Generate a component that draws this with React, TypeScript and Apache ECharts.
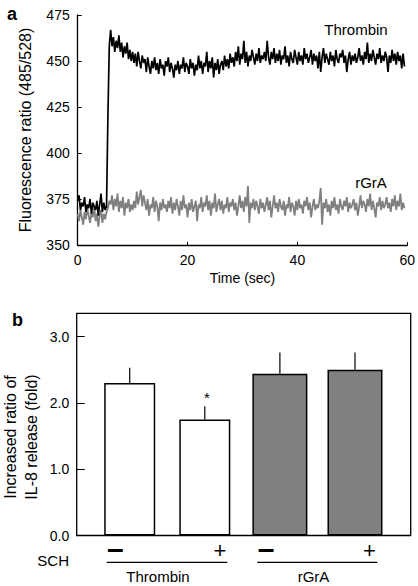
import React, { useEffect, useRef } from 'react';
import * as echarts from 'echarts';

// ---------- Panel a: fluorescence traces (sampled every 0.25 s) ----------
const SAMPLE_INTERVAL_SEC = 0.25;
const TIME_TICKS = [0, 20, 40, 60];
const RATIO_TICKS = [350, 375, 400, 425, 450, 475];

const THROMBIN_TRACE = [
  374, 377, 369, 373, 371, 376, 368, 372, 370, 375, 367, 373, 371, 369, 374, 366, 372, 378, 368, 373, 369, 371,
  420, 458, 467,
  458, 463, 455, 461, 457, 464, 455, 460,
  452, 458, 454, 460, 451, 456, 450, 455,
  449, 454, 447, 455, 450, 446, 453, 449,
  451, 444, 452, 447, 443, 450, 446, 452,
  445, 449, 443, 451, 446, 448, 442, 450,
  447, 452, 444, 449, 446, 441, 448, 445,
  450, 443, 448, 446, 452, 444, 449, 447,
  443, 451, 446, 449, 442, 448, 445, 453,
  446, 450, 443, 449, 447, 455, 444, 450,
  446, 452, 441, 449, 445, 451, 443, 448,
  450, 445, 453, 447, 451, 446, 454, 449,
  452, 447, 455, 450, 458, 448, 454, 451,
  461, 449, 455, 447, 453, 450, 456, 452,
  448, 454, 450, 457, 449, 453, 451, 455,
  450, 461, 452, 448, 455, 451, 457, 449,
  454, 450, 456, 448, 453, 451, 458, 449,
  453, 447, 455, 451, 449, 456, 452, 448,
  455, 450, 453, 448, 457, 451, 454, 449,
  452, 456, 448, 454, 450, 453, 446, 455,
  444, 452, 457, 449, 454, 451, 448, 455,
  450, 453, 447, 456, 451, 449, 454, 452,
  456, 449, 453, 444, 451, 455, 448, 453,
  450, 454, 449, 452, 457, 450, 453, 448,
  455, 451, 460, 449, 454, 450, 456, 452,
  448, 454, 451, 457, 449, 453, 450, 455,
  452, 444, 453, 449, 456, 450, 454, 448,
  455, 450, 453, 446, 454, 447,
];

const RGRA_TRACE = [
  367, 363, 369, 365, 361, 368, 364, 370, 366, 362, 368, 365, 371, 363, 367, 360, 366, 369, 362, 367, 364, 368,
  370, 374, 372,
  377, 369, 375, 371, 378, 368, 374, 370,
  376, 366, 373, 370, 375, 368, 372, 369,
  374, 370, 379, 372, 376, 380, 371, 377,
  373, 369, 375, 366, 372, 370, 376, 368,
  374, 371, 363, 373, 369, 375, 370, 372,
  368, 374, 370, 376, 367, 373, 369, 375,
  371, 366, 374, 369, 377, 370, 372, 365,
  373, 369, 375, 368, 371, 374, 363, 372,
  370, 376, 368, 373, 371, 377, 369, 374,
  366, 373, 370, 378, 368, 372, 375, 369,
  374, 367, 372, 370, 376, 368, 373, 371,
  375, 369, 373, 366, 371, 377, 370, 374,
  368, 376, 371, 382, 362, 373, 370, 375,
  369, 374, 371, 367, 375, 370, 373, 368,
  372, 376, 369, 374, 365, 371, 377, 370,
  373, 368, 375, 371, 369, 374, 366, 372,
  370, 376, 368, 373, 371, 366, 374, 369,
  375, 370, 372, 367, 374, 371, 376, 369,
  373, 365, 371, 375, 369, 372, 370, 374,
  381, 361, 373, 370, 375, 368, 372, 366,
  374, 370, 376, 369, 372, 367, 375, 371,
  369, 374, 371, 376, 368, 373, 370, 372,
  375, 369, 373, 366, 371, 377, 370, 374,
  372, 368, 375, 371, 378, 369, 374, 370,
  365, 373, 371, 376, 369, 374, 370, 372,
  376, 370, 373, 368, 375, 371, 377, 369,
  374, 371, 378, 369, 373, 370,
];

const TRACE_NAMES = ['Thrombin', 'rGrA'];

// ---------- Panel b: IL-8 release ----------
const BAR_GROUPS = ['Thrombin', 'Thrombin', 'rGrA', 'rGrA'];
const SCH_SIGNS = ['–', '+', '–', '+'];
const BAR_MEANS = [2.3, 1.75, 2.44, 2.5];
const BAR_ERRORS = [0.23, 0.2, 0.32, 0.26];
const BAR_SIGNIFICANT = [false, true, false, false];
const FOLD_TICKS = [0, 1, 2, 3];

const FONT = '"Liberation Sans", Arial, Helvetica, sans-serif';

export default function App() {
  const ref = useRef<HTMLDivElement>(null);

  useEffect(() => {
    if (!ref.current) return;
    const chart = echarts.init(ref.current, undefined, { renderer: 'svg' });

    const toPairs = (arr: number[]) => arr.map((v, i) => [i * SAMPLE_INTERVAL_SEC, v]);

    const barIdx = BAR_MEANS.map((_, i) => i);
    const thrombinBars = barIdx
      .filter((i) => BAR_GROUPS[i] === 'Thrombin')
      .map((i) => [i, BAR_MEANS[i]]);
    const rgraBars = barIdx
      .filter((i) => BAR_GROUPS[i] === 'rGrA')
      .map((i) => [i, BAR_MEANS[i]]);
    const errData = barIdx.map((i) => [i, BAR_MEANS[i], BAR_MEANS[i] + BAR_ERRORS[i], BAR_SIGNIFICANT[i] ? 1 : 0]);

    const xMinB = -0.706;
    const xMaxB = 3.742;

    const signX = [115.4, 220, 266, 369.3];

    const option: any = {
      animation: false,
      backgroundColor: '#fff',
      textStyle: { fontFamily: FONT, color: '#000' },
      grid: [
        { left: 77.7, top: 15, width: 329.6, height: 230 },
        {
          left: 76.7,
          top: 313.3,
          width: 334,
          height: 222.2,
          show: true,
          borderColor: '#000',
          borderWidth: 1.3,
          backgroundColor: 'transparent',
        },
      ],
      xAxis: [
        {
          gridIndex: 0,
          type: 'value',
          min: TIME_TICKS[0],
          max: TIME_TICKS[TIME_TICKS.length - 1],
          interval: 20,
          name: 'Time (sec)',
          nameLocation: 'middle',
          nameGap: 26,
          nameTextStyle: { fontSize: 14, color: '#000', fontFamily: FONT },
          axisLine: { onZero: false, lineStyle: { color: '#000', width: 1.3 } },
          axisTick: { inside: true, length: 3, lineStyle: { color: '#000', width: 1 } },
          axisLabel: { fontSize: 14, color: '#000', margin: 8, fontFamily: FONT },
          splitLine: { show: false },
        },
        { gridIndex: 1, type: 'value', min: xMinB, max: xMaxB, show: false },
        { gridIndex: 1, type: 'value', min: xMinB, max: xMaxB, show: false },
      ],
      yAxis: [
        {
          gridIndex: 0,
          type: 'value',
          min: RATIO_TICKS[0],
          max: RATIO_TICKS[RATIO_TICKS.length - 1],
          interval: 25,
          name: 'Fluorescence ratio (485/528)',
          nameLocation: 'middle',
          nameGap: 44,
          nameTextStyle: { fontSize: 16, color: '#000', fontFamily: FONT },
          axisLine: { show: true, onZero: false, lineStyle: { color: '#000', width: 1.3 } },
          axisTick: { show: true, inside: true, length: 4, lineStyle: { color: '#000', width: 1 } },
          axisLabel: { fontSize: 14, color: '#000', margin: 8, fontFamily: FONT },
          splitLine: { show: false },
        },
        {
          gridIndex: 1,
          type: 'value',
          min: FOLD_TICKS[0],
          max: 3.35,
          interval: 1,
          axisLine: { show: false, onZero: false },
          axisTick: { show: true, inside: true, length: 8, lineStyle: { color: '#000', width: 1 } },
          axisLabel: {
            fontSize: 14,
            color: '#000',
            margin: 7.5,
            fontFamily: FONT,
            showMaxLabel: false,
            formatter: (v: number) => (FOLD_TICKS.includes(v) ? v.toFixed(1) : ''),
          },
          splitLine: { show: false },
        },
      ],
      series: [
        {
          name: TRACE_NAMES[1],
          type: 'line',
          xAxisIndex: 0,
          yAxisIndex: 0,
          data: toPairs(RGRA_TRACE),
          showSymbol: false,
          lineStyle: { color: '#808080', width: 1.8 },
        },
        {
          name: TRACE_NAMES[0],
          type: 'line',
          xAxisIndex: 0,
          yAxisIndex: 0,
          data: toPairs(THROMBIN_TRACE),
          showSymbol: false,
          lineStyle: { color: '#000', width: 1.7 },
        },
        {
          name: 'Thrombin bars',
          type: 'bar',
          xAxisIndex: 1,
          yAxisIndex: 1,
          data: thrombinBars,
          barWidth: 51,
          itemStyle: { color: '#fff', borderColor: '#000', borderWidth: 1.5 },
        },
        {
          name: 'rGrA bars',
          type: 'bar',
          xAxisIndex: 2,
          yAxisIndex: 1,
          data: rgraBars,
          barWidth: 55,
          itemStyle: { color: '#808080', borderColor: '#000', borderWidth: 1.5 },
        },
        {
          name: 'SEM',
          type: 'custom',
          xAxisIndex: 1,
          yAxisIndex: 1,
          data: errData,
          encode: { x: 0, y: [1, 2] },
          z: 5,
          renderItem: (_params: any, api: any) => {
            const x = api.value(0);
            const p1 = api.coord([x, api.value(1)]);
            const p2 = api.coord([x, api.value(2)]);
            const children: any[] = [
              {
                type: 'line',
                shape: { x1: p1[0], y1: p1[1], x2: p2[0], y2: p2[1] },
                style: { stroke: '#000', lineWidth: 1.2 },
              },
            ];
            if (api.value(3) === 1) {
              children.push({
                type: 'text',
                x: p2[0] + 2,
                y: p2[1] - 9,
                style: {
                  text: '*',
                  fontSize: 15,
                  fontFamily: FONT,
                  fill: '#000',
                  align: 'center',
                  verticalAlign: 'middle',
                },
              });
            }
            return { type: 'group', children };
          },
        },
      ],
      graphic: [
        { type: 'text', x: 7, y: 14, style: { text: 'a', fontSize: 18, fontWeight: 'bold', fontFamily: FONT, fill: '#000', verticalAlign: 'middle' } },
        { type: 'text', x: 12, y: 320, style: { text: 'b', fontSize: 18, fontWeight: 'bold', fontFamily: FONT, fill: '#000', verticalAlign: 'middle' } },
        { type: 'text', x: 356, y: 29, style: { text: TRACE_NAMES[0], fontSize: 15, fontFamily: FONT, fill: '#000', align: 'center', verticalAlign: 'middle' } },
        { type: 'text', x: 371, y: 182, style: { text: TRACE_NAMES[1], fontSize: 15, fontFamily: FONT, fill: '#000', align: 'center', verticalAlign: 'middle' } },
        {
          type: 'text',
          x: 21,
          y: 437,
          rotation: Math.PI / 2,
          style: {
            text: 'Increased ratio of\nIL-8 release (fold)',
            fontSize: 16,
            lineHeight: 21,
            fontFamily: FONT,
            fill: '#000',
            align: 'center',
            verticalAlign: 'middle',
          },
        },
        { type: 'text', x: 37.3, y: 560, style: { text: 'SCH', fontSize: 15, fontFamily: FONT, fill: '#000', verticalAlign: 'middle' } },
        ...SCH_SIGNS.map((s, i) => ({
          type: 'text',
          x: signX[i],
          y: s === '+' ? 550 : 548,
          style: {
            text: s,
            fontSize: s === '+' ? 22 : 30,
            fontWeight: s === '+' ? 'normal' : 'bold',
            fontFamily: FONT,
            fill: '#000',
            align: 'center',
            verticalAlign: 'middle',
          },
        })),
        { type: 'line', shape: { x1: 106.7, y1: 562.3, x2: 227.3, y2: 562.3 }, style: { stroke: '#000', lineWidth: 1.3 } },
        { type: 'line', shape: { x1: 257.3, y1: 562.3, x2: 377.3, y2: 562.3 }, style: { stroke: '#000', lineWidth: 1.3 } },
        { type: 'text', x: 158, y: 576, style: { text: 'Thrombin', fontSize: 15, fontFamily: FONT, fill: '#000', align: 'center', verticalAlign: 'middle' } },
        { type: 'text', x: 313.5, y: 576, style: { text: 'rGrA', fontSize: 15, fontFamily: FONT, fill: '#000', align: 'center', verticalAlign: 'middle' } },
      ],
    };

    chart.setOption(option);
    return () => chart.dispose();
  }, []);

  return (
    <div
      ref={ref}
      style={{ position: 'fixed', left: 0, top: 0, width: 418, height: 586, background: '#fff' }}
    />
  );
}
